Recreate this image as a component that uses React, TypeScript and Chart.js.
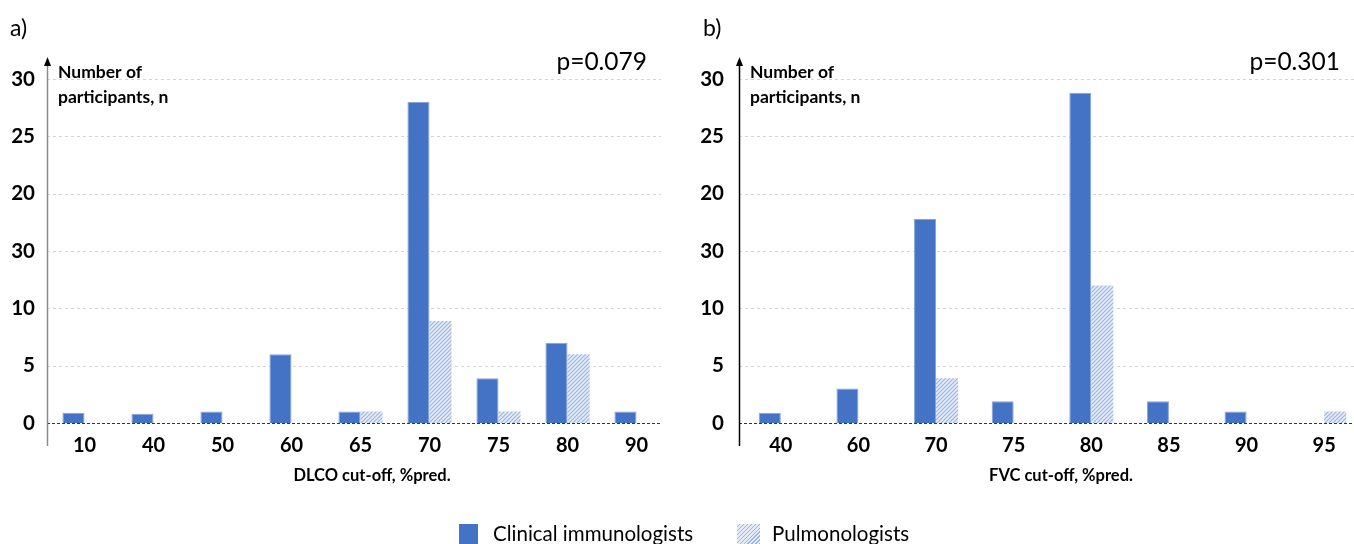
import React, { useEffect, useRef } from "react";
import { Chart, registerables } from "chart.js";

Chart.register(...registerables);

// ---- data ----
const dlcoCategories = ["10", "40", "50", "60", "65", "70", "75", "80", "90"];
const dlcoImmunologists = [0.9, 0.8, 1, 6, 1, 28, 3.9, 7, 1];
const dlcoPulmonologists = [0, 0, 0, 0, 1, 8.9, 1, 6, 0];

const fvcCategories = ["40", "60", "70", "75", "80", "85", "90", "95"];
const fvcImmunologists = [0.9, 3, 17.8, 1.9, 28.8, 1.9, 1, 0];
const fvcPulmonologists = [0, 0, 3.9, 0, 12, 0, 0, 1];

// y tick labels, bottom to top (0, 5, 10, ... 30)
const yTickLabels = ["0", "5", "10", "30", "20", "25", "30"];
const seriesNames = ["Clinical immunologists", "Pulmonologists"];

const FONT = "Lato";
const BLUE = "#4472C4";

function makeHatch(): CanvasPattern | string {
  const tile = document.createElement("canvas");
  tile.width = 4;
  tile.height = 4;
  const c = tile.getContext("2d");
  if (!c) return "#c5d3ee";
  c.fillStyle = "#e4ebf7";
  c.fillRect(0, 0, 4, 4);
  c.strokeStyle = "#9fb6e3";
  c.lineWidth = 1.2;
  c.beginPath();
  c.moveTo(0, 4);
  c.lineTo(4, 0);
  c.moveTo(-1, 1);
  c.lineTo(1, -1);
  c.moveTo(3, 5);
  c.lineTo(5, 3);
  c.stroke();
  const p = c.createPattern(tile, "repeat");
  return p || "#c5d3ee";
}

interface PanelSpec {
  letter: string;
  pValue: string;
  xTitle: string;
  categories: string[];
  immunologists: number[];
  pulmonologists: number[];
  left: number;
  width: number;
  yWidth: number;
  yPad: number;
  padRight: number;
  axisX: number;
  gridEnd: number;
  titleCenter: number;
  pRight: number;
  axisColor: string;
  catPct: number;
}

const panels: PanelSpec[] = [
  {
    letter: "a)",
    pValue: "p=0.079",
    xTitle: "DLCO cut-off, %pred.",
    categories: dlcoCategories,
    immunologists: dlcoImmunologists,
    pulmonologists: dlcoPulmonologists,
    left: 0,
    width: 680,
    yWidth: 50,
    yPad: 15,
    padRight: 9,
    axisX: 47,
    gridEnd: 661,
    titleCenter: 372,
    pRight: 647,
    axisColor: "#8c8c8c",
    catPct: 0.64,
  },
  {
    letter: "b)",
    pValue: "p=0.301",
    xTitle: "FVC cut-off, %pred.",
    categories: fvcCategories,
    immunologists: fvcImmunologists,
    pulmonologists: fvcPulmonologists,
    left: 680,
    width: 700,
    yWidth: 62,
    yPad: 18,
    padRight: 17,
    axisX: 59,
    gridEnd: 700,
    titleCenter: 381,
    pRight: 660,
    axisColor: "#000000",
    catPct: 0.567,
  },
];

function Panel({ spec }: { spec: PanelSpec }) {
  const ref = useRef<HTMLCanvasElement>(null);

  useEffect(() => {
    if (!ref.current) return;
    const hatch = makeHatch();

    const decorations = {
      id: "panelDecorations",
      beforeDatasetsDraw(chart: any) {
        const { ctx } = chart;
        const y = chart.scales.y;
        ctx.save();
        // horizontal dashed gridlines
        ctx.strokeStyle = "#d4d4d4";
        ctx.lineWidth = 1;
        ctx.setLineDash([3, 3]);
        for (let v = 5; v <= 30; v += 5) {
          const py = Math.round(y.getPixelForValue(v)) + 0.5;
          ctx.beginPath();
          ctx.moveTo(spec.axisX, py);
          ctx.lineTo(spec.gridEnd, py);
          ctx.stroke();
        }
        // zero line
        ctx.strokeStyle = "#333333";
        ctx.setLineDash([3, 2]);
        const py0 = Math.round(y.getPixelForValue(0)) + 0.5;
        ctx.beginPath();
        ctx.moveTo(spec.axisX, py0);
        ctx.lineTo(spec.gridEnd, py0);
        ctx.stroke();
        ctx.restore();
      },
      afterDraw(chart: any) {
        const { ctx } = chart;
        ctx.save();
        // vertical axis with arrow head
        const ax = spec.axisX + 0.5;
        ctx.strokeStyle = spec.axisColor;
        ctx.lineWidth = 1.5;
        ctx.beginPath();
        ctx.moveTo(ax, 64);
        ctx.lineTo(ax, 446);
        ctx.stroke();
        ctx.fillStyle = "#000";
        ctx.beginPath();
        ctx.moveTo(ax, 57);
        ctx.lineTo(ax - 3.5, 66);
        ctx.lineTo(ax + 3.5, 66);
        ctx.closePath();
        ctx.fill();

        ctx.fillStyle = "#000";
        ctx.textBaseline = "middle";
        // panel letter
        ctx.textAlign = "left";
        ctx.font = `23px ${FONT}`;
        ctx.fillText(spec.letter, spec.left === 0 ? 10 : 23, 29);
        // axis caption
        ctx.font = `bold 17.5px ${FONT}`;
        ctx.fillText("Number of", spec.axisX + 11, 72);
        ctx.fillText("participants, n", spec.axisX + 11, 97);
        // p-value
        ctx.textAlign = "right";
        ctx.font = `24.5px ${FONT}`;
        ctx.fillText(spec.pValue, spec.pRight, 62);
        // x axis title
        ctx.textAlign = "center";
        ctx.font = `bold 16.5px ${FONT}`;
        ctx.fillText(spec.xTitle, spec.titleCenter, 476);
        ctx.restore();
      },
    };

    const chart = new Chart(ref.current, {
      type: "bar",
      data: {
        labels: spec.categories,
        datasets: [
          {
            label: seriesNames[0],
            data: spec.immunologists,
            backgroundColor: BLUE,
            borderColor: "#86a3da",
            borderWidth: (c: any) => (c.raw > 0 ? 1 : 0),
            borderSkipped: "start",
          },
          {
            label: seriesNames[1],
            data: spec.pulmonologists,
            backgroundColor: hatch as any,
            borderWidth: 0,
          },
        ],
      },
      options: {
        animation: false,
        responsive: false,
        devicePixelRatio: 1,
        layout: { padding: { top: 79, right: spec.padRight, bottom: 0, left: 0 } },
        datasets: {
          bar: { categoryPercentage: spec.catPct, barPercentage: 1 },
        },
        plugins: {
          legend: { display: false },
          tooltip: { enabled: false },
        },
        scales: {
          x: {
            grid: { display: false, drawTicks: false },
            border: { display: false },
            ticks: {
              padding: 11,
              color: "#000",
              font: { family: FONT, size: 20, weight: "bold" },
            },
            afterFit(scale: any) {
              scale.height = 121;
            },
          },
          y: {
            min: 0,
            max: 30,
            grid: { display: false, drawTicks: false },
            border: { display: false },
            ticks: {
              stepSize: 5,
              padding: spec.yPad,
              color: "#000",
              font: { family: FONT, size: 20.5, weight: "bold" },
              callback: (_v: any, i: number) => yTickLabels[i],
            },
            afterFit(scale: any) {
              scale.width = spec.yWidth;
            },
          },
        },
      },
      plugins: [decorations],
    } as any);

    return () => chart.destroy();
  }, [spec]);

  return (
    <canvas
      ref={ref}
      width={spec.width}
      height={544}
      style={{
        position: "absolute",
        left: spec.left,
        top: 0,
        width: spec.width,
        height: 544,
      }}
    />
  );
}

export default function App() {
  const legendText: React.CSSProperties = {
    position: "absolute",
    top: 521,
    font: `20.5px ${FONT}`,
    lineHeight: "24px",
    color: "#000",
    whiteSpace: "nowrap",
  };
  return (
    <div
      style={{
        position: "fixed",
        left: 0,
        top: 0,
        width: 1354,
        height: 544,
        overflow: "hidden",
        background: "#fff",
      }}
    >
      {panels.map((p) => (
        <Panel key={p.letter} spec={p} />
      ))}
      <div
        style={{
          position: "absolute",
          left: 459,
          top: 524,
          width: 19,
          height: 22,
          background: BLUE,
        }}
      />
      <span style={{ ...legendText, left: 493 }}>{seriesNames[0]}</span>
      <div
        style={{
          position: "absolute",
          left: 737,
          top: 524,
          width: 23,
          height: 22,
          background:
            "repeating-linear-gradient(135deg, #e4ebf7 0px, #e4ebf7 1.6px, #9fb6e3 1.6px, #9fb6e3 2.8px)",
        }}
      />
      <span style={{ ...legendText, left: 772 }}>{seriesNames[1]}</span>
    </div>
  );
}
